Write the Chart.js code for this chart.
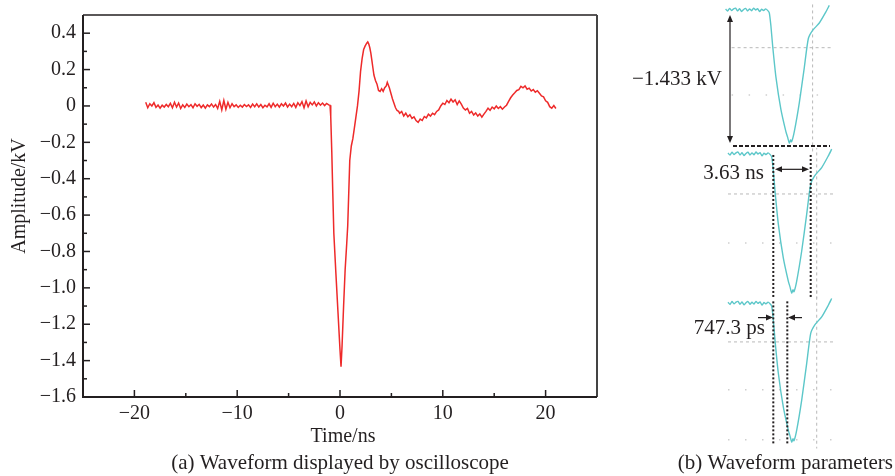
<!DOCTYPE html>
<html>
<head>
<meta charset="utf-8">
<script src="https://cdn.jsdelivr.net/npm/chart.js@4/dist/chart.umd.min.js"></script>
<style>
  html, body { margin: 0; padding: 0; background: #fff; }
  #wrap { position: relative; width: 895px; height: 476px; overflow: hidden; }
  canvas { position: absolute; }
</style>
</head>
<body>
<div id="wrap">
  <canvas id="main" width="895" height="476" style="left:0;top:0"></canvas>
  <canvas id="s1"></canvas>
  <canvas id="s2"></canvas>
  <canvas id="s3"></canvas>
</div>
<script>
// (a) oscilloscope trace, time in ns, amplitude in kV
const timeNs = [
  -18.9,-18.7,-18.5,-18.3,-18.1,-17.9,-17.7,-17.5,-17.3,-17.1,
  -16.9,-16.7,-16.5,-16.3,-16.1,-15.9,-15.7,-15.5,-15.3,-15.1,
  -14.9,-14.7,-14.5,-14.3,-14.1,-13.9,-13.7,-13.5,-13.3,-13.1,
  -12.9,-12.7,-12.5,-12.3,-12.1,-11.9,-11.7,-11.5,-11.3,-11.1,
  -10.9,-10.7,-10.5,-10.3,-10.1,-9.9,-9.7,-9.5,-9.3,-9.1,
  -8.9,-8.7,-8.5,-8.3,-8.1,-7.9,-7.7,-7.5,-7.3,-7.1,
  -6.9,-6.7,-6.5,-6.3,-6.1,-5.9,-5.7,-5.5,-5.3,-5.1,
  -4.9,-4.7,-4.5,-4.3,-4.1,-3.9,-3.7,-3.5,-3.3,-3.1,
  -2.9,-2.7,-2.5,-2.3,-2.1,-1.9,-1.7,-1.5,-1.3,-1.1,
  -0.97,-0.9,-0.8,-0.7,-0.6,-0.4,-0.2,0.0,0.1,0.2,
  0.35,0.5,0.65,0.75,0.85,0.95,1.1,1.25,1.4,1.55,
  1.7,1.85,2.0,2.15,2.3,2.45,2.6,2.7,2.8,2.9,
  3.0,3.1,3.2,3.3,3.45,3.6,3.75,3.9,4.05,4.2,
  4.35,4.5,4.6,4.7,4.8,4.95,5.1,5.25,5.4,5.55,5.7,
  5.8,6.0,6.2,6.4,6.6,6.8,7.0,7.2,7.4,7.6,
  7.8,8.0,8.2,8.4,8.6,8.8,9.0,9.2,9.4,9.6,
  9.8,10.0,10.2,10.4,10.6,10.8,11.0,11.2,11.4,11.6,
  11.8,12.0,12.2,12.4,12.6,12.8,13.0,13.2,13.4,13.6,
  13.8,14.0,14.2,14.4,14.6,14.8,15.0,15.2,15.4,15.6,
  15.8,16.0,16.2,16.4,16.6,16.8,17.0,17.2,17.4,17.6,
  17.8,18.0,18.2,18.4,18.6,18.8,19.0,19.2,19.4,19.6,
  19.8,20.0,20.2,20.4,20.6,20.8,21.0
];
const ampKv = [
  0.02,-0.01,0.012,0.0,0.018,-0.008,0.005,-0.012,0.004,-0.006,
  0.008,-0.004,0.014,-0.01,0.02,-0.006,0.016,-0.014,0.006,-0.008,
  0.01,-0.004,0.007,-0.01,0.012,-0.002,0.009,-0.009,0.005,-0.012,
  0.006,-0.004,0.011,-0.006,0.008,-0.014,0.025,-0.022,0.03,-0.018,
  0.02,-0.01,0.012,-0.004,0.006,-0.008,0.004,-0.006,0.008,-0.003,
  0.006,-0.008,0.01,-0.004,0.012,-0.006,0.008,-0.01,0.004,-0.005,
  0.012,-0.008,0.015,-0.004,0.01,-0.006,0.012,0.0,0.016,-0.006,
  0.01,-0.004,0.014,-0.008,0.018,0.002,0.024,-0.01,0.028,-0.004,
  0.02,0.006,0.022,0.0,0.018,0.004,0.016,0.002,0.014,0.006,
  0.004,-0.06,-0.25,-0.48,-0.70,-0.92,-1.13,-1.34,-1.433,-1.32,
  -1.10,-0.90,-0.76,-0.66,-0.48,-0.30,-0.22,-0.18,-0.12,-0.06,
  0.0,0.08,0.19,0.26,0.31,0.33,0.345,0.352,0.34,0.32,
  0.29,0.25,0.21,0.17,0.14,0.12,0.085,0.08,0.095,0.08,
  0.1,0.11,0.13,0.115,0.1,0.07,0.04,0.015,-0.01,-0.025,-0.03,
  -0.04,-0.03,-0.055,-0.04,-0.06,-0.048,-0.068,-0.06,-0.08,-0.09,
  -0.072,-0.08,-0.058,-0.066,-0.045,-0.056,-0.04,-0.048,-0.03,-0.022,
  0.0,0.015,0.008,0.03,0.018,0.038,0.022,0.034,0.008,0.028,
  0.01,-0.012,-0.022,-0.014,-0.04,-0.03,-0.05,-0.038,-0.056,-0.044,
  -0.062,-0.045,-0.03,-0.012,-0.024,-0.006,-0.016,0.0,-0.014,-0.004,
  -0.018,-0.006,0.004,0.025,0.045,0.06,0.072,0.085,0.09,0.108,
  0.1,0.11,0.092,0.098,0.082,0.09,0.076,0.084,0.07,0.055,
  0.05,0.028,0.02,-0.004,-0.012,0.002,-0.014
];

const xTicks = [-20, -10, 0, 10, 20];
const xMinor = [-15, -5, 5, 15];
const yTicks = [-1.6, -1.4, -1.2, -1.0, -0.8, -0.6, -0.4, -0.2, 0, 0.2, 0.4];
const yMinor = [-1.5, -1.3, -1.1, -0.9, -0.7, -0.5, -0.3, -0.1, 0.1, 0.3];

// (b) zoomed pulse as seen on the scope, ns from left edge of the trace / kV
const snipT = [0,0.2,0.4,0.6,0.8,1.0,1.2,1.4,1.6,1.8,2.0,2.2,2.4,2.6,2.8,3.0,3.2,3.4,3.6,3.8,4.0,4.2,
  4.37,4.53,4.7,5.03,5.53,6.03,6.2,6.37,6.5,6.6,6.87,7.37,7.87,8.27,8.7,9.37,10.03,10.37];
const snipV = [0.01,-0.012,0.018,-0.006,0.012,0.02,-0.01,0.014,-0.016,0.006,0.018,-0.01,0.012,-0.008,0.02,0.0,0.014,-0.018,0.008,-0.006,0.012,-0.004,
  -0.03,-0.17,-0.38,-0.72,-1.07,-1.31,-1.37,-1.433,-1.40,-1.42,-1.31,-1.00,-0.62,-0.31,-0.22,-0.14,-0.02,0.05];

const SERIF = "'Liberation Serif', 'Times New Roman', serif";
const INK = '#231f20';
const RED = '#ee2a2a';
const CYAN = '#5cc7c9';

const minus = s => s.replace('-', '\u2212');
const fmtX = v => minus(String(v));
const fmtY = v => (v === 0 ? '0' : minus(v.toFixed(1)));

const mainDecor = {
  id: 'mainDecor',
  afterDraw(chart) {
    const { ctx, chartArea: a, scales: { x, y } } = chart;
    ctx.save();
    ctx.strokeStyle = INK;
    ctx.lineWidth = 1.3;
    ctx.beginPath();
    ctx.moveTo(a.left, a.top); ctx.lineTo(a.right, a.top);
    ctx.stroke();
    ctx.strokeStyle = '#444';
    ctx.lineWidth = 2;
    ctx.beginPath();
    ctx.moveTo(a.right, a.top); ctx.lineTo(a.right, a.bottom);
    ctx.stroke();
    ctx.strokeStyle = INK;
    ctx.beginPath();
    ctx.moveTo(a.left, a.top); ctx.lineTo(a.left, a.bottom); ctx.lineTo(a.right, a.bottom);
    ctx.stroke();

    // ticks point inward
    ctx.lineWidth = 1.5;
    const tx = (v, len) => { const p = x.getPixelForValue(v); ctx.beginPath(); ctx.moveTo(p, a.bottom); ctx.lineTo(p, a.bottom - len); ctx.stroke(); };
    const ty = (v, len) => { const p = y.getPixelForValue(v); ctx.beginPath(); ctx.moveTo(a.left, p); ctx.lineTo(a.left + len, p); ctx.stroke(); };
    xTicks.forEach(v => tx(v, 7)); xMinor.forEach(v => tx(v, 4));
    yTicks.forEach(v => ty(v, 7)); yMinor.forEach(v => ty(v, 4));

    ctx.fillStyle = INK;
    ctx.font = `20px ${SERIF}`;
    ctx.textAlign = 'center';
    ctx.textBaseline = 'alphabetic';
    ctx.fillText('Time/ns', (a.left + a.right) / 2 + 3, 442);
    ctx.save();
    ctx.translate(20, (a.top + a.bottom) / 2 - 10);
    ctx.rotate(-Math.PI / 2);
    ctx.textBaseline = 'middle';
    ctx.fillText('Amplitude/kV', 0, 0);
    ctx.restore();

    ctx.font = `21px ${SERIF}`;
    ctx.fillText('(a) Waveform displayed by oscilloscope', 340, 469);
    ctx.textAlign = 'right';
    ctx.fillText('(b) Waveform parameters', 893, 469);
    ctx.restore();
  }
};

new Chart(document.getElementById('main'), {
  type: 'line',
  data: {
    datasets: [{
      data: timeNs.map((t, i) => ({ x: t, y: ampKv[i] })),
      borderColor: RED,
      borderWidth: 1.5,
      pointRadius: 0,
      tension: 0
    }]
  },
  options: {
    responsive: false,
    animation: false,
    devicePixelRatio: 1,
    events: [],
    layout: { padding: { top: 15, right: 298, left: 0, bottom: 0 } },
    plugins: { legend: { display: false }, tooltip: { enabled: false } },
    scales: {
      x: {
        type: 'linear', min: -25, max: 25,
        grid: { display: false, drawTicks: false },
        border: { display: false },
        afterBuildTicks: s => { s.ticks = xTicks.map(v => ({ value: v })); },
        afterFit: s => { s.height = 79; s.paddingLeft = 0; s.paddingRight = 0; },
        ticks: { padding: 5, color: INK, font: { family: SERIF, size: 20 }, callback: fmtX, maxRotation: 0, autoSkip: false }
      },
      y: {
        type: 'linear', min: -1.6, max: 0.5,
        grid: { display: false, drawTicks: false },
        border: { display: false },
        afterBuildTicks: s => { s.ticks = yTicks.map(v => ({ value: v })); },
        afterFit: s => { s.width = 83; s.paddingTop = 0; s.paddingBottom = 0; },
        ticks: { padding: 7, color: INK, font: { family: SERIF, size: 20 }, callback: fmtY, autoSkip: false }
      }
    }
  },
  plugins: [mainDecor]
});

// helpers for the scope snippets
function dashLine(ctx, x1, y1, x2, y2, color, width, dash) {
  ctx.save();
  ctx.strokeStyle = color; ctx.lineWidth = width; ctx.setLineDash(dash);
  ctx.beginPath(); ctx.moveTo(x1, y1); ctx.lineTo(x2, y2); ctx.stroke();
  ctx.restore();
}
function arrowHead(ctx, xTip, yTip, dx, dy) {
  const len = 7, half = 3;
  const bx = xTip - dx * len, by = yTip - dy * len;
  ctx.beginPath();
  ctx.moveTo(xTip, yTip);
  ctx.lineTo(bx - dy * half, by + dx * half);
  ctx.lineTo(bx + dy * half, by - dx * half);
  ctx.closePath();
  ctx.fill();
}
function label(ctx, text, xRight, yBase) {
  ctx.save();
  ctx.fillStyle = INK; ctx.font = `21px ${SERIF}`;
  ctx.textAlign = 'right'; ctx.textBaseline = 'alphabetic';
  ctx.fillText(text, xRight, yBase);
  ctx.restore();
}

const GRAY = '#b9b9b9';
const snippets = [
  {
    id: 's1', box: { left: 620, top: 0, width: 218, height: 152 }, zeroX: 725.6, flatY: 10, floorY: 143,
    under(ctx, X, Y) {
      dashLine(ctx, X(0.6), Y(-0.406), X(10.7), Y(-0.406), GRAY, 1, [3, 3]);
      dashLine(ctx, X(0.6), Y(-0.916), X(10.7), Y(-0.916), '#cfcfcf', 1.5, [1.5, 15.5]);
      dashLine(ctx, X(8.7), Y(0.06), X(8.7), Y(-1.56), GRAY, 1, [3, 3]);
    },
    over(ctx, X, Y) {
      dashLine(ctx, X(0.74), Y(-1.466), X(10.44), Y(-1.466), INK, 2, [4, 2]);
      const ax = X(0.44), top = Y(-0.054), bot = Y(-1.433);
      dashLine(ctx, ax, top + 4, ax, bot - 4, INK, 1.2, []);
      ctx.fillStyle = INK;
      arrowHead(ctx, ax, top, 0, -1);
      arrowHead(ctx, ax, bot, 0, 1);
      label(ctx, '\u22121.433 kV', X(-0.36), Y(-0.808));
    }
  },
  {
    id: 's2', box: { left: 620, top: 148, width: 218, height: 154 }, zeroX: 728, flatY: 154, floorY: 293,
    under(ctx, X, Y) {
      dashLine(ctx, X(0), Y(-0.412), X(10.7), Y(-0.412), GRAY, 1, [3, 3]);
      dashLine(ctx, X(0), Y(-0.918), X(10.7), Y(-0.918), '#cfcfcf', 1.5, [1.5, 15.5]);
      dashLine(ctx, X(8.87), Y(0.14), X(8.87), Y(-1.49), GRAY, 1, [3, 3]);
    },
    over(ctx, X, Y) {
      [4.53, 8.27].forEach(t => dashLine(ctx, X(t), Y(-0.01), X(t), Y(-1.48), INK, 2, [2, 2]));
      const ay = Y(-0.158), l = X(4.7), r = X(8.1);
      dashLine(ctx, l + 4, ay, r - 4, ay, INK, 1.2, []);
      ctx.fillStyle = INK;
      arrowHead(ctx, l, ay, -1, 0);
      arrowHead(ctx, r, ay, 1, 0);
      label(ctx, '3.63 ns', X(3.6), Y(-0.258));
    }
  },
  {
    id: 's3', box: { left: 620, top: 290, width: 218, height: 162 }, zeroX: 728, flatY: 303.3, floorY: 442,
    under(ctx, X, Y) {
      dashLine(ctx, X(0), Y(-0.399), X(10.7), Y(-0.399), GRAY, 1, [3, 3]);
      dashLine(ctx, X(0), Y(-0.894), X(10.7), Y(-0.894), '#cfcfcf', 1.5, [1.5, 15.5]);
      dashLine(ctx, X(0), Y(-1.41), X(10.7), Y(-1.41), '#cfcfcf', 1.5, [1.5, 15.5]);
      dashLine(ctx, X(8.87), Y(0.13), X(8.87), Y(-1.5), GRAY, 1, [3, 3]);
    },
    over(ctx, X, Y) {
      [4.53, 5.93].forEach(t => dashLine(ctx, X(t), Y(0.02), X(t), Y(-1.46), INK, 2, [2, 2]));
      const ay = Y(-0.148);
      ctx.fillStyle = INK;
      dashLine(ctx, X(3.0), ay, X(4.5) - 4, ay, INK, 1.2, []);
      arrowHead(ctx, X(4.5), ay, 1, 0);
      dashLine(ctx, X(7.4), ay, X(6.0) + 4, ay, INK, 1.2, []);
      arrowHead(ctx, X(6.0), ay, -1, 0);
      label(ctx, '747.3 ps', X(3.7), Y(-0.316));
    }
  }
];

const pxPerNs = 10;
const depthKv = 1.433;

snippets.forEach(sn => {
  const cv = document.getElementById(sn.id);
  const b = sn.box;
  cv.width = b.width; cv.height = b.height;
  cv.style.left = b.left + 'px'; cv.style.top = b.top + 'px';
  const k = (sn.floorY - sn.flatY) / depthKv;
  const decor = {
    id: 'decor_' + sn.id,
    beforeDatasetsDraw(chart) {
      const { x, y } = chart.scales;
      sn.under(chart.ctx, v => x.getPixelForValue(v), v => y.getPixelForValue(v));
    },
    afterDatasetsDraw(chart) {
      const { x, y } = chart.scales;
      sn.over(chart.ctx, v => x.getPixelForValue(v), v => y.getPixelForValue(v));
    }
  };
  new Chart(cv, {
    type: 'line',
    data: {
      datasets: [{
        data: snipT.map((t, i) => ({ x: t, y: snipV[i] })),
        borderColor: CYAN,
        borderWidth: 1.4,
        pointRadius: 0,
        tension: 0.2
      }]
    },
    options: {
      responsive: false,
      animation: false,
      devicePixelRatio: 1,
      events: [],
      layout: { padding: 0 },
      plugins: { legend: { display: false }, tooltip: { enabled: false } },
      scales: {
        x: { type: 'linear', display: false, min: (b.left - sn.zeroX) / pxPerNs, max: (b.left + b.width - sn.zeroX) / pxPerNs },
        y: { type: 'linear', display: false, min: -(b.top + b.height - sn.flatY) / k, max: (sn.flatY - b.top) / k }
      }
    },
    plugins: [decor]
  });
});
</script>
</body>
</html>
